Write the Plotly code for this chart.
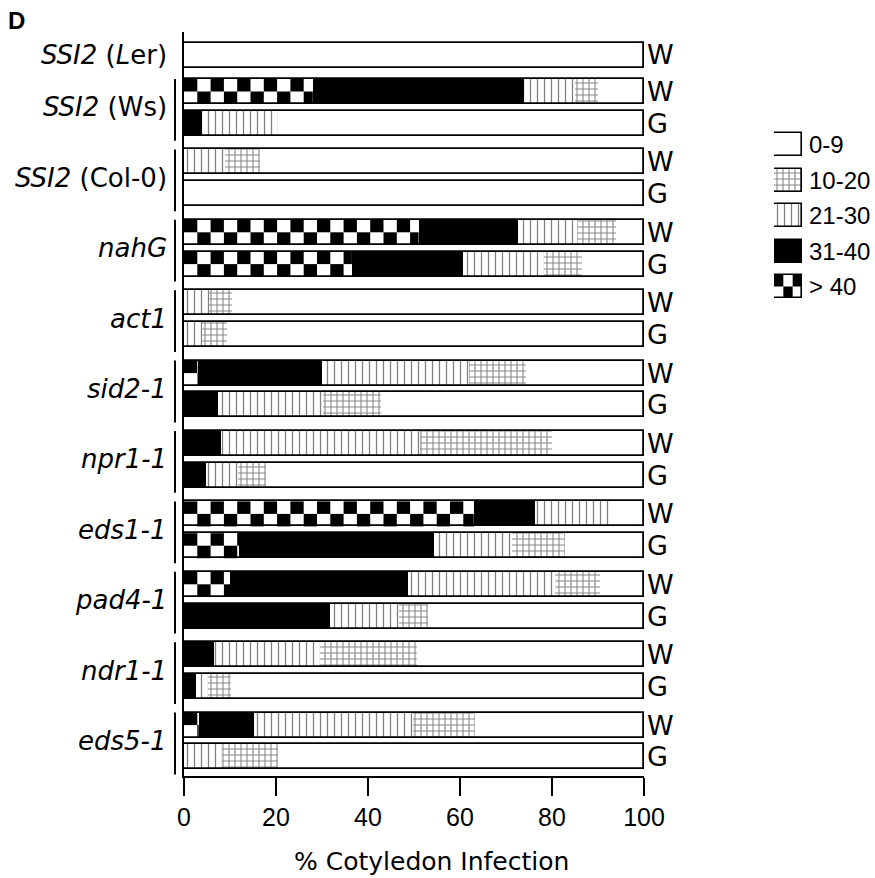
import numpy as np
import plotly.graph_objects as go

# ---------------- data ----------------
groups = ["<i>SSI2</i> (<i>L</i>er)", "<i>SSI2</i> (Ws)", "<i>SSI2</i> (Col-0)", "<i>nahG</i>",
          "<i>act1</i>", "<i>sid2-1</i>", "<i>npr1-1</i>", "<i>eds1-1</i>", "<i>pad4-1</i>",
          "<i>ndr1-1</i>", "<i>eds5-1</i>"]
row_group = [0, 1, 1, 2, 2, 3, 3, 4, 4, 5, 5, 6, 6, 7, 7, 8, 8, 9, 9, 10, 10]
row_cond = ["W", "W", "G", "W", "G", "W", "G", "W", "G", "W", "G",
            "W", "G", "W", "G", "W", "G", "W", "G", "W", "G"]

classes = ["> 40", "31-40", "21-30", "10-20", "0-9"]
s_gt40 = [0, 28, 0, 0, 0, 51, 36.5, 0, 0, 3, 0, 0, 0, 63, 12, 10, 0, 0, 0, 3.2, 0]
s_31_40 = [0, 46, 4, 0, 0, 21.5, 24.2, 0, 0, 27, 7.4, 8, 4.8, 13.4, 42.3, 38.7, 31.8, 6.6, 2.7, 12, 0]
s_21_30 = [0, 11, 16.5, 9, 0, 13, 17.5, 5.5, 4, 32, 22.8, 43.4, 6.9, 16.3, 17, 32, 14.9, 23, 2.5, 34.6, 8.2]
s_10_20 = [0, 5, 0, 7.5, 0, 8.5, 8.4, 5, 5.3, 12.3, 12.7, 28.5, 6.2, 0, 11.6, 9.8, 6.4, 21.1, 5.1, 13.4, 12.2]
s_0_9 = [100, 10, 79.5, 83.5, 100, 6, 13.4, 89.5, 90.7, 25.7, 57.1, 20.1, 82.1, 7.3, 17.1, 9.5, 46.9, 49.3, 89.7, 36.8, 79.6]

x_ticks = [0, 20, 40, 60, 80, 100]
x_title = "% Cotyledon Infection"
panel = "D"

# ---------------- layout geometry (pixels) ----------------
FW, FH = 875, 878
ML, MR, MT, MB = 184, 5, 32, 102
PW, PH = FW - ML - MR, FH - MT - MB
X0_PX, X100_PX = 184, 644
main_dom = [0, (X100_PX - ML) / PW]
px_per_unit = (X100_PX - X0_PX) / 100.0

def paper_x(px):
    return (px - ML) / PW

def paper_y(py):
    return 1 - (py - MT) / PH

# row centres in pixel units on a reversed y axis
FIRST_W, GROUP_STEP, WG_STEP, LER_Y = 91.5, 70.4, 31.8, 55.0
row_y = []
for g, c in zip(row_group, row_cond):
    if g == 0:
        row_y.append(LER_Y)
    else:
        y = FIRST_W + GROUP_STEP * (g - 1) + (WG_STEP if c == "G" else 0)
        row_y.append(y)
row_y = np.array(row_y)
BAR_H = 25

series = [np.array(s_gt40), np.array(s_31_40), np.array(s_21_30), np.array(s_10_20), np.array(s_0_9)]
bases = np.cumsum([np.zeros(len(row_y))] + series[:-1], axis=0)

styles = {
    "> 40": dict(color="white", pattern=dict(shape="")),
    "31-40": dict(color="black", pattern=dict(shape="")),
    "21-30": dict(color="white", pattern=dict(shape="|", size=7, solidity=0.18, fgcolor="black", fillmode="overlay")),
    "10-20": dict(color="white", pattern=dict(shape="+", size=6, solidity=0.33, fgcolor="#111", fillmode="overlay")),
    "0-9": dict(color="white", pattern=dict(shape="")),
}

fig = go.Figure()
for name, vals, base in zip(classes, series, bases):
    st = styles[name]
    fig.add_trace(go.Bar(
        x=vals, y=row_y, base=base, orientation="h", width=BAR_H,
        marker=dict(color=st["color"], pattern=st["pattern"], line=dict(width=0)),
        showlegend=False, hoverinfo="skip"))

# outline of each full bar
totals = np.sum(series, axis=0)
fig.add_trace(go.Bar(
    x=totals, y=row_y, base=np.zeros(len(row_y)), orientation="h", width=BAR_H,
    marker=dict(color="rgba(0,0,0,0)", line=dict(color="black", width=1.8)),
    showlegend=False, hoverinfo="skip"))

shapes = []
# checker squares for the > 40 class
cw = 13.3 / px_per_unit
for v, yc in zip(s_gt40, row_y):
    i = 0
    while i * cw < v - 1e-9:
        x0, x1 = i * cw, min((i + 1) * cw, v)
        if i % 2 == 0:
            y0, y1 = yc - BAR_H / 2, yc
        else:
            y0, y1 = yc, yc + BAR_H / 2
        shapes.append(dict(type="rect", xref="x", yref="y", x0=x0, x1=x1, y0=y0, y1=y1,
                           fillcolor="black", line=dict(width=0), layer="above"))
        i += 1

# group bracket lines
for gi in range(1, len(groups)):
    ys = row_y[[k for k, g in enumerate(row_group) if g == gi]]
    shapes.append(dict(type="line", xref="paper", yref="paper",
                       x0=paper_x(175), x1=paper_x(175),
                       y0=paper_y(ys.min() - BAR_H / 2), y1=paper_y(ys.max() + BAR_H / 2 + 5),
                       line=dict(color="black", width=2)))

annotations = []
# group labels
for gi, name in enumerate(groups):
    ys = row_y[[k for k, g in enumerate(row_group) if g == gi]]
    annotations.append(dict(x=paper_x(169), y=paper_y(ys.mean()), xref="paper", yref="paper",
                            text=name, showarrow=False, xanchor="right", yanchor="middle",
                            font=dict(family="DejaVu Sans", size=26, color="black")))
# W / G labels
for c, yc in zip(row_cond, row_y):
    annotations.append(dict(x=paper_x(645), y=paper_y(yc), xref="paper", yref="paper",
                            text=c, showarrow=False, xanchor="left", yanchor="middle",
                            font=dict(family="DejaVu Sans", size=27, color="black")))

# custom legend (own x axis)
LEG_X0, LEG_X1 = 774, 802
leg_y = [144.5 + 35.5 * i for i in range(5)]
leg_order = ["0-9", "10-20", "21-30", "31-40", "> 40"]
for name, yc in zip(leg_order, leg_y):
    st = styles[name]
    fig.add_trace(go.Bar(
        x=[1], y=[yc], base=[0], orientation="h", width=23, xaxis="x2", yaxis="y",
        marker=dict(color=st["color"], pattern=st["pattern"], line=dict(color="black", width=1.6)),
        showlegend=False, hoverinfo="skip"))
    annotations.append(dict(x=paper_x(807), y=paper_y(yc), xref="paper", yref="paper",
                            text=name, showarrow=False, xanchor="left", yanchor="middle",
                            font=dict(family="Liberation Sans, Arial", size=24, color="black")))
    if name == "> 40":
        for i in range(3):
            if i % 2 == 0:
                y0, y1 = yc - 11.5, yc
            else:
                y0, y1 = yc, yc + 11.5
            shapes.append(dict(type="rect", xref="x2", yref="y", x0=i / 3, x1=(i + 1) / 3,
                               y0=y0, y1=y1, fillcolor="black", line=dict(width=0), layer="above"))

annotations.append(dict(x=paper_x(6), y=paper_y(21), xref="paper", yref="paper", text="<b>" + panel + "</b>",
                        showarrow=False, xanchor="left", yanchor="middle",
                        font=dict(family="Liberation Sans, Arial", size=24, color="black")))
annotations.append(dict(x=paper_x(431), y=paper_y(862), xref="paper", yref="paper", text=x_title,
                        showarrow=False, xanchor="center", yanchor="middle",
                        font=dict(family="DejaVu Sans", size=25, color="black")))

fig.update_layout(
    width=FW, height=FH, margin=dict(l=ML, r=MR, t=MT, b=MB, pad=0, autoexpand=False),
    paper_bgcolor="white", plot_bgcolor="white", barmode="overlay", bargap=0,
    shapes=shapes, annotations=annotations, showlegend=False,
    xaxis=dict(domain=main_dom, range=[0, 100], tickvals=x_ticks, ticks="outside", ticklen=18,
               tickwidth=2, tickcolor="black", showline=True, linecolor="black", linewidth=2,
               showgrid=False, zeroline=False, anchor="y", automargin=False,
               tickfont=dict(family="Liberation Sans, Arial", size=25, color="black")),
    yaxis=dict(range=[FH - MB, MT], domain=[0, 1], showticklabels=False, ticks="",
               showline=True, linecolor="black", linewidth=2, showgrid=False, zeroline=False,
               anchor="x", automargin=False),
    xaxis2=dict(domain=[paper_x(LEG_X0), paper_x(LEG_X1)], range=[0, 1], visible=False,
                anchor="y", showgrid=False, zeroline=False, automargin=False),
)

fig.write_html("out.html", config={"displayModeBar": False},
               post_script="document.body.style.margin='0';document.body.style.overflow='hidden';")
